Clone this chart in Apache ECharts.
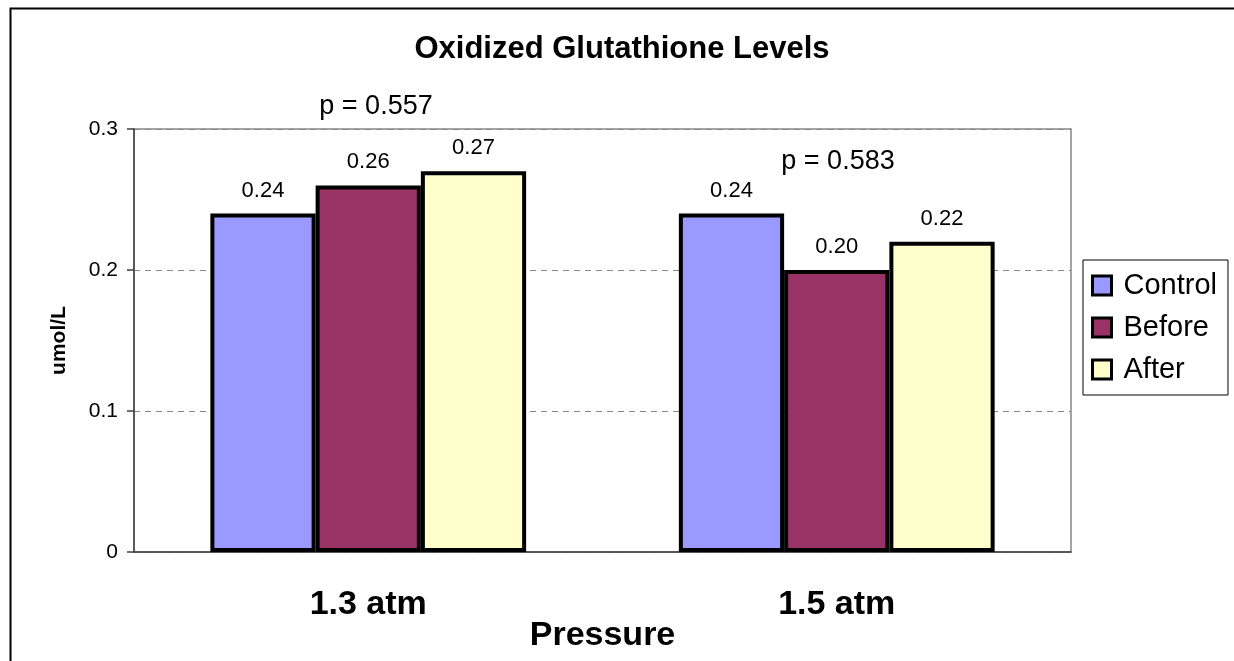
<!DOCTYPE html>
<html>
<head>
<meta charset="utf-8">
<script src="https://cdn.jsdelivr.net/npm/echarts@6/dist/echarts.min.js"></script>
<style>
  html, body { margin: 0; padding: 0; background: #fff; }
  #main { width: 1234px; height: 661px; }
</style>
</head>
<body>
<div id="main"></div>
<script>
const categories = ['1.3 atm', '1.5 atm']
const control = [0.24, 0.24]
const before = [0.26, 0.20]
const after = [0.27, 0.22]
const yTicks = [0, 0.1, 0.2, 0.3]
const pValues = ['p = 0.557', 'p = 0.583']

const font = 'Liberation Sans, Arial, sans-serif'
var myChart = echarts.init(document.getElementById('main'))

const barLabel = {
  show: true,
  position: 'top',
  distance: 12,
  fontSize: 22,
  fontFamily: font,
  color: '#000',
  formatter: p => p.value.toFixed(2)
}

const makeSeries = (name, data, color) => ({
  name: name,
  type: 'bar',
  data: data,
  barGap: '0%',
  barCategoryGap: '32.6%',
  itemStyle: { color: color, borderColor: '#000', borderWidth: 4 },
  label: barLabel
})

myChart.setOption({
  animation: false,
  backgroundColor: '#fff',
  title: {
    text: 'Oxidized Glutathione Levels',
    left: 617,
    textAlign: 'center',
    top: 29,
    textStyle: { fontFamily: font, fontSize: 31, fontWeight: 'bold', color: '#000' }
  },
  legend: {
    orient: 'vertical',
    left: 1083,
    top: 260,
    padding: [11, 11, 11, 8],
    icon: 'rect',
    itemWidth: 19,
    itemHeight: 19,
    itemGap: 13,
    borderColor: '#000',
    borderWidth: 1,
    itemStyle: { borderWidth: 3, borderColor: '#000' },
    textStyle: { fontFamily: font, fontSize: 29, color: '#000', padding: [0, 0, 0, 7] },
    data: ['Control', 'Before', 'After']
  },
  grid: {
    left: 134, right: 163, top: 129, bottom: 109,
    outerBoundsMode: 'none',
    show: true, borderColor: '#888', borderWidth: 1.5
  },
  xAxis: {
    type: 'category',
    data: categories,
    name: 'Pressure',
    nameLocation: 'middle',
    nameGap: 67,
    nameMoveOverlap: false,
    nameTextStyle: { fontFamily: font, fontSize: 34, fontWeight: 'bold', color: '#000' },
    axisLine: { lineStyle: { color: '#404040', width: 1.5 } },
    axisTick: { length: 10, lineStyle: { color: '#404040', width: 1.5 } },
    axisLabel: { margin: 36, fontFamily: font, fontSize: 34, fontWeight: 'bold', color: '#000' }
  },
  yAxis: {
    type: 'value',
    min: yTicks[0],
    max: yTicks[yTicks.length - 1],
    interval: 0.1,
    name: 'umol/L',
    nameLocation: 'middle',
    nameGap: 64,
    nameRotate: 90,
    nameTextStyle: { fontFamily: font, fontSize: 21, fontWeight: 'bold', color: '#000' },
    axisLine: { show: true, lineStyle: { color: '#404040', width: 1.5 } },
    axisTick: { show: true, length: 7, lineStyle: { color: '#404040', width: 1.5 } },
    axisLabel: { margin: 16, fontFamily: font, fontSize: 21, color: '#000' },
    splitLine: { lineStyle: { color: '#888', type: [6, 5], width: 1 } }
  },
  graphic: [
    {
      type: 'rect',
      left: 8, top: 6,
      shape: { width: 1225, height: 700 },
      style: { fill: 'none', stroke: '#000', lineWidth: 2 },
      silent: true
    },
    {
      type: 'text', x: 376, y: 107,
      style: { text: pValues[0], fontFamily: font, fontSize: 27, fill: '#000', align: 'center', verticalAlign: 'middle' }
    },
    {
      type: 'text', x: 838, y: 162,
      style: { text: pValues[1], fontFamily: font, fontSize: 27, fill: '#000', align: 'center', verticalAlign: 'middle' }
    }
  ],
  series: [
    makeSeries('Control', control, '#9999FF'),
    makeSeries('Before', before, '#993366'),
    makeSeries('After', after, '#FFFFCC')
  ]
})
</script>
</body>
</html>
